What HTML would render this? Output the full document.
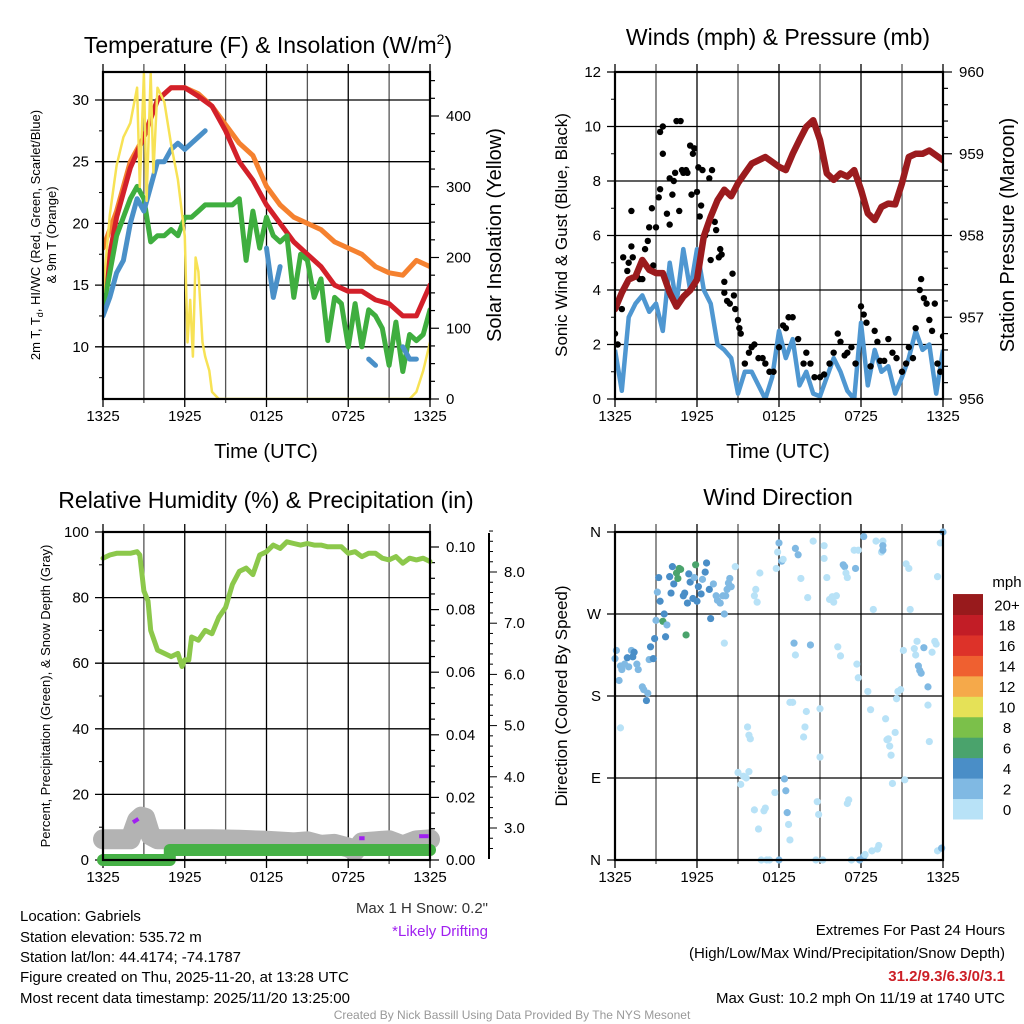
<!DOCTYPE html>
<html><head><meta charset="utf-8">
<style>
body{margin:0;background:#fff;}
svg{display:block;font-family:"Liberation Sans",sans-serif;}
</style></head>
<body>
<svg id="c" width="1024" height="1024" viewBox="0 0 1024 1024" xmlns="http://www.w3.org/2000/svg">
<g id="g1"></g>
<g id="g2"></g>
<g id="g3"></g>
<g id="g4"></g>
<g id="txt">
<text x="268" y="53" font-size="23" text-anchor="middle">Temperature (F) &amp; Insolation (W/m<tspan dy="-9" font-size="14">2</tspan><tspan dy="9">)</tspan></text>
<text x="778" y="45" font-size="23" text-anchor="middle">Winds (mph) &amp; Pressure (mb)</text>
<text x="266" y="508" font-size="23" text-anchor="middle">Relative Humidity (%) &amp; Precipitation (in)</text>
<text x="778" y="505" font-size="23" text-anchor="middle">Wind Direction</text>
<text x="266" y="458" font-size="20" text-anchor="middle">Time (UTC)</text>
<text x="778" y="458" font-size="20" text-anchor="middle">Time (UTC)</text>
<text transform="translate(40,235) rotate(-90)" font-size="13" text-anchor="middle">2m T, T<tspan dy="3" font-size="9">d</tspan><tspan dy="-3">, HI/WC (Red, Green, Scarlet/Blue)</tspan></text>
<text transform="translate(56,235) rotate(-90)" font-size="13" text-anchor="middle">&amp; 9m T (Orange)</text>
<text transform="translate(501,235) rotate(-90)" font-size="20" text-anchor="middle">Solar Insolation (Yellow)</text>
<text transform="translate(567,235) rotate(-90)" font-size="17" text-anchor="middle">Sonic Wind &amp; Gust (Blue, Black)</text>
<text transform="translate(1014,235) rotate(-90)" font-size="20" text-anchor="middle">Station Pressure (Maroon)</text>
<text transform="translate(50,696) rotate(-90)" font-size="13" text-anchor="middle">Percent, Precipitation (Green), &amp; Snow Depth (Gray)</text>
<text transform="translate(567,696) rotate(-90)" font-size="17" text-anchor="middle">Direction (Colored By Speed)</text>
<text x="488" y="913" font-size="15" text-anchor="end" fill="#333">Max 1 H Snow: 0.2"</text>
<text x="488" y="936" font-size="15" text-anchor="end" fill="#a020f0">*Likely Drifting</text>
<g font-size="15">
<text x="20" y="921">Location: Gabriels</text>
<text x="20" y="942">Station elevation: 535.72 m</text>
<text x="20" y="962">Station lat/lon: 44.4174; -74.1787</text>
<text x="20" y="982">Figure created on Thu, 2025-11-20, at 13:28 UTC</text>
<text x="20" y="1003">Most recent data timestamp: 2025/11/20 13:25:00</text>
</g>
<g font-size="15" text-anchor="end">
<text x="1005" y="935">Extremes For Past 24 Hours</text>
<text x="1005" y="958">(High/Low/Max Wind/Precipitation/Snow Depth)</text>
<text x="1005" y="981" fill="#cc1f26" font-weight="bold">31.2/9.3/6.3/0/3.1</text>
<text x="1005" y="1003">Max Gust: 10.2 mph On 11/19 at 1740 UTC</text>
</g>
<text x="512" y="1019" font-size="12" fill="#999" text-anchor="middle">Created By Nick Bassill Using Data Provided By The NYS Mesonet</text>
</g>
</svg>
<script>
// ---------- data ----------
const xTicks = ["1325","1925","0125","0725","1325"];
const hourT = [0,1,2,3,4,5,6,7,8,9,10,11,12,13,14,15,16,17,18,19,20,21,22,23,24];
const tempRed = [14.5,20.5,24.5,27,30,31,31,30.3,29.5,27.5,25,23.5,21.5,20,18.5,17.5,16.5,15,14.5,14.5,13.8,13.5,12.5,12.5,15];
const tempOrange = [18,21,25,27,30,31,31,30.5,29.5,28,26.5,25.5,23,21.5,20.5,20,19.5,18.5,18,17.5,16.5,16,15.8,17,16.5];
const halfT = [0,0.5,1,1.5,2,2.5,3,3.5,4,4.5,5,5.5,6,6.5,7,7.5,8,8.5,9,9.5,10,10.5,11,11.5,12,12.5,13,13.5,14,14.5,15,15.5,16,16.5,17,17.5,18,18.5,19,19.5,20,20.5,21,21.5,22,22.5,23,23.5,24];
const dewGreen = [13,16,19,20.5,22,23,22,18.5,19,19,19.5,19,20.5,20.5,21,21.5,21.5,21.5,21.5,21.5,22,17,21,18,20.5,19,18.5,19,14,17.5,17,14,15.5,10.5,14,13.5,10,13.5,10,13,12.5,11.5,8.5,12,8,11,10.5,11,13];
const hiwcBlue = [12.5,14,16,17,20,22,21,23,25,25,26,26.5,26,26.5,27,27.5,null,27,null,null,null,null,null,null,18,14,16.5,null,null,null,null,null,null,null,null,null,null,7,null,9,8.5,null,null,null,10,9,9,null,13];
const solarT = [0,0.5,1,1.5,2,2.5,2.7,3,3.2,3.5,3.7,4,4.5,5,5.5,6,6.2,6.4,6.6,6.8,7,7.3,7.5,7.8,8,8.5,12,18,22.5,23,23.5,24];
const solarV = [150,260,330,370,390,440,300,460,280,460,320,440,420,360,310,230,80,140,60,200,180,80,60,40,10,0,0,0,0,10,40,80];
const windBlue = [1.8,0.3,3,3.5,3.8,3.2,3.5,2.5,5,3.5,5.5,4,5.5,4,3.5,2,1.8,1.5,0.2,1,1,0.5,0,0.8,2.5,1.5,2.2,0.5,1,0.2,0.1,0.8,1.5,1,0.3,0,2.8,0.5,1.8,1,1.2,0.2,0.8,1.5,2.5,1.8,2,0.2,1.8];
const pressure = [957.1,957.3,957.46,957.5,957.7,957.58,957.54,957.54,957.3,957.13,957.25,957.33,957.46,957.99,958.23,958.43,958.56,958.48,958.64,958.76,958.88,958.92,958.96,958.9,958.84,958.8,959.0,959.17,959.33,959.41,959.17,958.76,958.68,958.76,958.72,958.8,958.56,958.27,958.19,958.35,958.39,958.38,958.64,958.96,959.0,959.0,959.04,958.98,958.92];
const gustT = [0,0.2,0.5,0.6,0.9,1,1.2,1.2,1.3,1.6,1.8,2,2.2,2.4,2.5,2.7,2.8,3,3.2,3.3,3.3,3.5,3.5,3.8,4,4,4.2,4.3,4.4,4.5,4.7,4.8,4.9,5,5.2,5.3,5.5,5.6,5.7,5.8,6,6.1,6.2,6.3,6.4,6.6,6.7,6.9,7,7.1,7.3,7.4,7.6,7.7,7.8,8,8,8.2,8.4,8.6,8.7,8.8,9,9.1,9.2,9.5,9.8,10,10.2,10.5,10.8,11,11.3,11.6,12,12.3,12.5,12.7,13,13.4,13.8,14,14.3,14.6,15,15.3,15.7,16,16.3,16.5,16.8,17,17.3,17.6,18,18.2,18.4,18.7,19,19.2,19.4,19.7,20,20.3,20.6,21,21.3,21.5,21.8,22,22.3,22.4,22.6,22.8,23,23.2,23.4,23.6,23.8,24];
const gustV = [2.4,2,3.3,5.2,4.7,5,5.6,6.9,5.2,4.5,4.4,4.4,5.5,5.8,6.3,7,4.9,6.3,7.4,7.7,9.8,10,9,6.8,8.1,6.4,7.5,8,8.3,10.2,6.9,10.2,8.4,8.3,8.4,8.3,9.3,7.5,9,9.2,7.6,8.5,6.7,7.1,8.4,6,6.2,8.1,5.1,8.4,6.5,6.2,5.2,5.5,5.3,4.3,3.9,3.6,3.5,4.6,3.8,3.3,2.9,2.6,2.4,1.3,1.7,1.9,2,1.5,1.5,1.3,1,1,1.9,2.7,2.6,3,3,2.2,1.3,1.7,1.3,0.8,0.8,0.9,1.3,1.7,2.4,2.1,1.6,1.7,1.9,1.3,3.4,3.1,2.8,1.2,2.5,2.1,1.4,1.4,2.2,1.7,1.5,1,1.3,1.9,1.5,2.6,4,4.4,3.7,3.5,2.9,2.5,3.5,1.3,1,2.3];
const rhT = [0,0.5,1,1.5,2,2.5,2.7,3,3.3,3.5,4,4.5,5,5.5,5.8,6,6.3,6.5,7,7.5,8,8.5,9,9.5,10,10.5,11,11.5,12,12.5,13,13.5,14,14.5,15,15.5,16,16.5,17,17.5,18,18.5,19,19.5,20,20.5,21,21.5,22,22.5,23,23.5,24];
const rhV = [92,93,93.5,93.5,93.5,94,93,82,79,70,64,63,62,63,59,61,61,68,67,70,69,74,77,84,88,89,87,93,94,96,95,97,96.5,96,96.5,96,96,95.5,95.5,95.5,93.5,94,92.5,93.5,93.5,92,91.5,92.5,90.5,92,91.5,92,91];
const precipT = [0,4.9,4.9,24];
const precipV = [0,0,0.0032,0.0032];
const snowT = [0,1,2,2.5,2.8,3.1,3.5,4,6,8,10,12,14,15,16,17,18,18.5,19,20,21,22,23,24];
const snowV = [2.78,2.78,2.78,3.15,3.22,3.2,2.85,2.78,2.78,2.78,2.77,2.75,2.72,2.74,2.67,2.69,2.62,2.55,2.72,2.74,2.76,2.66,2.76,2.78];
const dirT = [0,0.1,0.3,0.4,0.5,0.7,0.9,1,1.2,1.3,1.4,1.6,1.7,2.0,2.1,2.3,2.4,2.5,2.6,2.8,2.9,0.4,3.0,3.1,3.2,3.3,3.5,3.6,3.7,3.8,4.0,4.1,4.2,4.3,4.5,4.6,4.7,4.8,5.0,5.1,5.2,5.3,5.4,5.5,5.7,5.8,5.9,6.0,6.1,6.3,6.4,6.6,6.7,6.9,7.0,7.2,7.4,7.5,7.7,7.9,8.0,8.1,8.2,8.3,8.4,8.5,8.0,8.8,9,9.2,9.4,9.6,9.7,9.8,9.9,9.8,10.2,10.5,10.7,10.9,10.2,10.3,10.4,10.6,11.0,11.1,11.3,11.7,11.8,11.9,12.0,12.0,12.2,12.3,12.4,12.5,12.6,12.7,12.8,12.8,13.0,13.1,13.2,13.2,13.4,13.6,13.8,13.9,14.0,14.1,14.3,14.5,14.7,14.8,14.9,15.0,15.0,15.2,15.3,15.3,15.5,15.7,15.9,16.0,16.2,16.3,16.5,16.7,16.8,16.9,17.0,17.0,17.1,17.3,17.5,17.6,17.7,17.8,17.8,17.9,18.2,18.2,18.3,18.5,18.7,18.8,18.9,19.1,19.2,19.3,19.5,19.6,19.6,19.6,19.8,19.9,20.0,20.1,20.2,20.3,20.5,20.6,20.7,20.9,21.1,21.2,21.3,21.5,21.6,21.9,22.0,22.1,22.2,22.3,22.4,22.6,22.9,22.9,23.0,23.2,23.4,23.5,23.6,23.6,23.8,23.9,24.0];
const dirV = [221,230,197,213,209,215,222,212,230,223,228,215,209,190,187,175,183,220,234,221,243,145,263,294,310,284,262,270,245,258,311,293,322,303,315,309,320,319,290,293,247,282,314,305,287,310,324,284,300,292,308,316,326,297,265,303,290,285,282,290,270,290,297,304,309,300,238,322,96,83,92,90,146,137,133,97,55,34,0,54,290,297,283,315,57,0,0,74,320,338,348,0,328,330,89,76,52,39,22,173,173,238,225,342,335,309,135,146,163,288,236,350,0,64,50,166,113,0,331,345,310,286,289,283,290,234,224,324,322,315,310,62,66,0,340,320,215,340,200,0,4,355,6,185,165,10,275,350,12,16,338,350,345,340,155,132,133,125,115,84,140,177,185,187,230,88,325,320,275,232,225,240,213,208,205,233,170,190,130,228,240,237,311,10,348,13,360];
const dirSpd = [3,2,2,3,2,3,4,2,3,5,4,2,2,3,3,4,3,3,4,4,4,1,3,3,4,4,6,4,4,3,4,4,5,4,6,6,7,7,4,4,7,4,4,4,4,3,6,4,4,4,3,4,4,4,4,3,2,2,2,2,2,2,3,3,2,2,1,1,1,1,1,1,1,1,1,1,1,1,1,1,1,1,1,1,1,1,1,1,1,1,2,3,2,1,3,3,3,1,1,1,1,3,1,3,3,1,1,1,1,1,2,1,1,1,1,1,1,1,1,1,1,1,1,1,1,1,1,3,2,1,1,1,1,1,1,2,1,1,1,3,3,2,1,1,1,1,1,1,1,1,1,1,3,3,1,1,1,1,1,1,1,1,1,1,1,1,1,1,1,1,1,1,3,3,3,3,1,3,1,1,1,1,1,1,1,3,3];
const cbLabels = ["0","2","4","6","8","10","12","14","16","18","20+"];
const cbColors = ["#b8e2f7","#80b9e3","#4a8ec7","#4aa36c","#7bc04a","#e5e157","#f5a94a","#ef6030","#dd3229","#c21d26","#981a1c"];
const dirLabels = ["N","E","S","W","N"];

// ---------- helpers ----------
const NS="http://www.w3.org/2000/svg";
function mk(parent,tag,attrs,txt){const e=document.createElementNS(NS,tag);for(const k in attrs)e.setAttribute(k,attrs[k]);if(txt!==undefined)e.textContent=txt;parent.appendChild(e);return e;}
function pathD(ts,vs,fx,fy){let d="",pen=false;for(let i=0;i<ts.length;i++){if(vs[i]===null){pen=false;continue;}d+=(pen?"L":"M")+fx(ts[i]).toFixed(1)+","+fy(vs[i]).toFixed(1);pen=true;}return d;}
function frame(g,x0,x1,y0,y1){
  for(let k=0;k<=8;k++){const x=x0+(x1-x0)*k/8;const l=mk(g,"line",{x1:x,x2:x,y1:y0-8,y2:y1+(k%2==0?8:4),stroke:k%2?"#555":"#000","stroke-width":1.3});
    
    }
  for(let k=0;k<5;k++){const t=mk(g,"text",{x:x0+(x1-x0)*k/4,y:y1+22,"font-size":15,"text-anchor":"middle"},xTicks[k]);
    
    }
}
function box(g,x0,x1,y0,y1){const r=mk(g,"rect",{x:x0,y:y0,width:x1-x0,height:y1-y0,fill:"none",stroke:"#000","stroke-width":2.2});
  
  }
function hgrid(g,x0,x1,y,lab){const l=mk(g,"line",{x1:x0-8,x2:x1,y1:y,y2:y,stroke:"#000","stroke-width":1.3});
  
  
  const t=mk(g,"text",{x:x0-14,y:y+5,"font-size":15,"text-anchor":"end"},lab);
  
  }
function rtick(g,x,y,lab,len,minor){mk(g,"line",{x1:x,x2:x+(minor?5:9),y1:y,y2:y,stroke:"#000","stroke-width":1.2});
  if(lab!==null){const t=mk(g,"text",{x:x+len,y:y+5,"font-size":15},lab);
  
  }}

// ---------- Panel 1 ----------
(function(){
 const g=document.getElementById("g1"),x0=103,x1=430,y0=72,y1=399;
 const X=t=>x0+t*(x1-x0)/24, Y=v=>100+(30-v)*12.34, YS=v=>399-v*0.7075;
 frame(g,x0,x1,y0,y1);
 for(const v of [10,15,20,25,30])hgrid(g,x0,x1,Y(v),String(v));
 for(let v=7.5;v<32.5;v+=5)mk(g,"line",{x1:x0-4,x2:x0,y1:Y(v),y2:Y(v),stroke:"#000"});
 for(let v=0;v<=450;v+=25)rtick(g,x1,YS(v),v%100==0?String(v):null,16,v%100!=0);
 const cp=mk(g,"clipPath",{id:"cp1"});mk(cp,"rect",{x:x0,y:y0,width:x1-x0,height:y1-y0});
 const d=mk(g,"g",{"clip-path":"url(#cp1)"});
 const s1=mk(d,"path",{d:pathD(hourT,tempOrange,X,Y),fill:"none",stroke:"#f5812f","stroke-width":5,"stroke-linejoin":"round","stroke-linecap":"round"});
 
 
 const s2=mk(d,"path",{d:pathD(hourT,tempRed,X,Y),fill:"none",stroke:"#d3202a","stroke-width":5,"stroke-linejoin":"round","stroke-linecap":"round"});
 
 
 const s3=mk(d,"path",{d:pathD(halfT,dewGreen,X,Y),fill:"none",stroke:"#3fae3f","stroke-width":5,"stroke-linejoin":"round","stroke-linecap":"round"});
 
 
 const s4=mk(d,"path",{d:pathD(halfT,hiwcBlue,X,Y),fill:"none",stroke:"#4a90c8","stroke-width":5,"stroke-linejoin":"round","stroke-linecap":"round"});
 
 
 const s5=mk(d,"path",{d:pathD(solarT,solarV,X,YS),fill:"none",stroke:"#f7e255","stroke-width":2.5,"stroke-linejoin":"round"});
 
 
 box(g,x0,x1,y0,y1);
})();

// ---------- Panel 2 ----------
(function(){
 const g=document.getElementById("g2"),x0=615,x1=943,y0=72,y1=399;
 const X=t=>x0+t*(x1-x0)/24, Y=v=>y1-v*(y1-y0)/12, YP=p=>y1-(p-956)*(y1-y0)/4;
 frame(g,x0,x1,y0,y1);
 for(let v=0;v<=12;v+=2)hgrid(g,x0,x1,Y(v),String(v));
 for(let v=1;v<12;v+=2)mk(g,"line",{x1:x0-4,x2:x0,y1:Y(v),y2:Y(v),stroke:"#000"});
 for(let p=956;p<=960.001;p+=0.2)rtick(g,x1,YP(p),Math.abs(p-Math.round(p))<0.01?String(Math.round(p)):null,16,Math.abs(p-Math.round(p))>0.01);
 const cp=mk(g,"clipPath",{id:"cp2"});mk(cp,"rect",{x:x0,y:y0,width:x1-x0,height:y1-y0});
 const d=mk(g,"g",{"clip-path":"url(#cp2)"});
 const w=mk(d,"path",{d:pathD(halfT,windBlue,X,Y),fill:"none",stroke:"#4f97d1","stroke-width":4.5,"stroke-linejoin":"round"});
 
 
 for(let i=0;i<gustT.length;i++){const c=mk(d,"circle",{cx:X(gustT[i]),cy:Y(gustV[i]),r:3.2,fill:"#000"});
  
  }
 const p=mk(d,"path",{d:pathD(halfT,pressure,X,YP),fill:"none",stroke:"#9b1b1e","stroke-width":6.5,"stroke-linejoin":"round","stroke-linecap":"round"});
 
 
 box(g,x0,x1,y0,y1);
})();

// ---------- Panel 3 ----------
(function(){
 const g=document.getElementById("g3"),x0=103,x1=430,y0=532,y1=860;
 const X=t=>x0+t*(x1-x0)/24, Y=v=>y1-v*(y1-y0)/100, YP=v=>860-v*3130, YS=v=>828-(v-3)*51.2;
 frame(g,x0,x1,y0,y1);
 for(let v=0;v<=100;v+=20)hgrid(g,x0,x1,Y(v),String(v));
 for(let v=10;v<100;v+=20)mk(g,"line",{x1:x0-4,x2:x0,y1:Y(v),y2:Y(v),stroke:"#000"});
 for(let k=0;k<=20;k++){const v=k*0.005;rtick(g,x1,YP(v),k%4==0?(v).toFixed(2):null,16,k%4!=0);}
 mk(g,"line",{x1:489,x2:489,y1:533,y2:859,stroke:"#000","stroke-width":2});
 for(let v=2.6;v<=8.8;v+=0.2){const maj=Math.abs(v-Math.round(v))<0.01;mk(g,"line",{x1:489,x2:489+(maj?8:4),y1:YS(v),y2:YS(v),stroke:"#000"});
  if(maj&&v>=2.9){const t=mk(g,"text",{x:504,y:YS(v)+5,"font-size":15},Math.round(v).toFixed(1));
   
   }}
 const s=mk(g,"path",{d:pathD(snowT,snowV,X,YS),fill:"none",stroke:"#b3b3b3","stroke-width":20,"stroke-linejoin":"round","stroke-linecap":"round"});
 
 
 mk(g,"path",{d:"M"+X(2.2)+","+(YS(3.15)+2)+"L"+X(2.6)+","+YS(3.18),stroke:"#a020f0","stroke-width":4,fill:"none"});
 mk(g,"path",{d:"M"+X(18.8)+","+YS(2.8)+"L"+X(19.2)+","+YS(2.8),stroke:"#a020f0","stroke-width":4,fill:"none"});
 mk(g,"path",{d:"M"+X(23.2)+","+YS(2.84)+"L"+X(23.9)+","+YS(2.84),stroke:"#a020f0","stroke-width":4,fill:"none"});
 const pr=mk(g,"path",{d:pathD(precipT,precipV,X,YP),fill:"none",stroke:"#46b146","stroke-width":12,"stroke-linejoin":"round","stroke-linecap":"round"});
 
 
 const r=mk(g,"path",{d:pathD(rhT,rhV,X,Y),fill:"none",stroke:"#8cc84b","stroke-width":5,"stroke-linejoin":"round","stroke-linecap":"round"});
 
 
 box(g,x0,x1,y0,y1);
})();

// ---------- Panel 4 ----------
(function(){
 const g=document.getElementById("g4"),x0=615,x1=943,y0=532,y1=860;
 const X=t=>x0+t*(x1-x0)/24, Y=d=>y1-d*(y1-y0)/360;
 frame(g,x0,x1,y0,y1);
 for(let k=0;k<5;k++)hgrid(g,x0,x1,Y(k*90),dirLabels[k]);
 const cp=mk(g,"clipPath",{id:"cp4"});mk(cp,"rect",{x:x0-6,y:y0-6,width:x1-x0+12,height:y1-y0+12});
 const d=mk(g,"g",{"clip-path":"url(#cp4)"});
 for(let i=0;i<dirT.length;i++){const ci=Math.min(10,Math.floor(dirSpd[i]/2));
  const c=mk(d,"circle",{cx:X(dirT[i]),cy:Y(dirV[i]),r:3.6,fill:cbColors[ci]});
  
  }
 box(g,x0,x1,y0,y1);
 const cb=mk(g,"g",{});
 
 
 const bh=20.45;
 for(let k=0;k<cbColors.length;k++){const yy=819-(k+1)*bh;
  mk(cb,"rect",{x:953,y:yy,width:30,height:bh+0.5,fill:cbColors[k]});
  const t=mk(cb,"text",{x:1007,y:yy+bh/2+6,"font-size":15,"text-anchor":"middle"},cbLabels[k]);
  
  }
 const m=mk(cb,"text",{x:1007,y:587,"font-size":15,"text-anchor":"middle"},"mph");
 
 
})();
</script>
</body></html>
